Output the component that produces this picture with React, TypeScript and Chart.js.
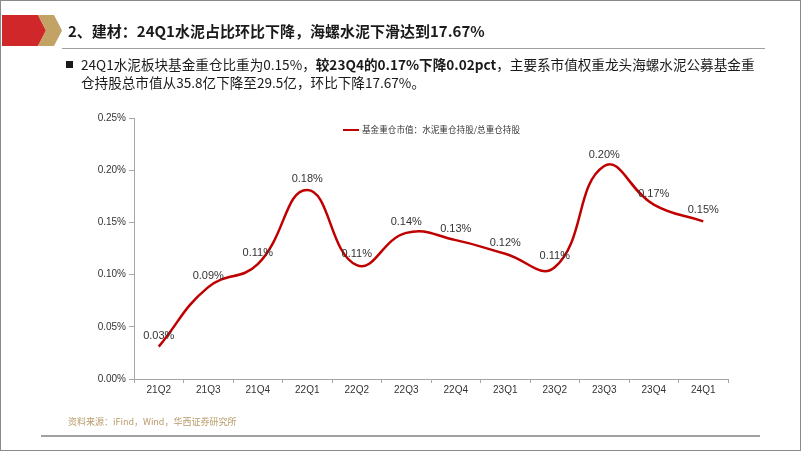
import React, { useEffect, useRef } from "react";
import { Chart, registerables } from "chart.js";

Chart.register(...registerables);

const categories = ["21Q2", "21Q3", "21Q4", "22Q1", "22Q2", "22Q3", "22Q4", "23Q1", "23Q2", "23Q3", "23Q4", "24Q1"];
const shareValues = [0.031, 0.088, 0.11, 0.181, 0.109, 0.14, 0.133, 0.12, 0.107, 0.204, 0.167, 0.151];
const yTickValues = [0, 0.05, 0.1, 0.15, 0.2, 0.25];
const seriesName = "基金重仓市值：水泥重仓持股/总重仓持股";
const titleText = "2、建材：24Q1水泥占比环比下降，海螺水泥下滑达到17.67%";
const bulletPre = "24Q1水泥板块基金重仓比重为0.15%，";
const bulletBold = "较23Q4的0.17%下降0.02pct";
const bulletPost = "，主要系市值权重龙头海螺水泥公募基金重";
const bulletLine2 = "仓持股总市值从35.8亿下降至29.5亿，环比下降17.67%。";
const sourceText = "资料来源：iFind，Wind，华西证券研究所";

const AXIS_FONT = "'Liberation Sans', Arial, sans-serif";
const CJK_FONT = "'Noto Sans CJK SC', 'Noto Sans', sans-serif";

const dataLabelPlugin = {
  id: "dataLabels",
  afterDatasetsDraw(chart: any) {
    const ctx = chart.ctx;
    const meta = chart.getDatasetMeta(0);
    ctx.save();
    ctx.font = `11px ${AXIS_FONT}`;
    ctx.fillStyle = "#333333";
    ctx.textAlign = "center";
    ctx.textBaseline = "middle";
    meta.data.forEach((pt: any, i: number) => {
      ctx.fillText(shareValues[i].toFixed(2) + "%", pt.x, pt.y - 11);
    });
    ctx.restore();
  },
};

export default function App() {
  const canvasRef = useRef<HTMLCanvasElement | null>(null);

  useEffect(() => {
    if (!canvasRef.current) return;
    const chart = new Chart(canvasRef.current, {
      type: "line",
      data: {
        labels: categories,
        datasets: [
          {
            label: seriesName,
            data: shareValues,
            borderColor: "#C00000",
            borderWidth: 2.5,
            pointRadius: 0,
            tension: 0.45,
            fill: false,
          },
        ],
      },
      options: {
        animation: false,
        responsive: false,
        devicePixelRatio: 1,
        layout: { padding: { left: 84, top: 118, right: 74, bottom: 42 } },
        plugins: {
          legend: { display: false },
          tooltip: { enabled: false },
          title: { display: false },
        },
        scales: {
          x: {
            type: "category",
            offset: true,
            afterFit(scale: any) {
              scale.height = 30;
            },
            grid: {
              display: true,
              offset: true,
              drawOnChartArea: false,
              drawTicks: true,
              tickLength: 4,
              color: "#a6a6a6",
            },
            border: { display: true, color: "#a6a6a6", width: 1 },
            ticks: {
              color: "#333333",
              font: { size: 10, family: AXIS_FONT },
              padding: 1,
              maxRotation: 0,
              autoSkip: false,
            },
          },
          y: {
            min: 0,
            max: 0.25,
            afterFit(scale: any) {
              scale.width = 50;
            },
            afterBuildTicks(scale: any) {
              scale.ticks = yTickValues.map((v) => ({ value: v }));
            },
            grid: {
              display: true,
              drawOnChartArea: false,
              drawTicks: true,
              tickLength: 5,
              color: "#a6a6a6",
            },
            border: { display: true, color: "#a6a6a6", width: 1 },
            ticks: {
              color: "#333333",
              font: { size: 10, family: AXIS_FONT },
              padding: 3,
              callback: (v: any) => Number(v).toFixed(2) + "%",
            },
          },
        },
      },
      plugins: [dataLabelPlugin],
    });
    return () => chart.destroy();
  }, []);

  return (
    <div
      style={{
        position: "fixed",
        left: 0,
        top: 0,
        width: 802,
        height: 451,
        background: "#ffffff",
        overflow: "hidden",
        fontFamily: CJK_FONT,
      }}
    >
      <canvas
        ref={canvasRef}
        width={802}
        height={451}
        style={{ position: "absolute", left: 0, top: 0, width: 802, height: 451 }}
      />
      {/* frame */}
      <div
        style={{
          position: "absolute",
          left: 0,
          top: 0,
          width: 801,
          height: 451,
          boxSizing: "border-box",
          border: "1.5px solid #8a8a8a",
          pointerEvents: "none",
        }}
      />
      {/* header chevrons */}
      <div
        style={{
          position: "absolute",
          left: 2,
          top: 15,
          width: 45,
          height: 31,
          background: "#d0282a",
          clipPath: "polygon(0 0, 36px 0, 44px 50%, 36px 100%, 0 100%)",
        }}
      />
      <div
        style={{
          position: "absolute",
          left: 38,
          top: 15,
          width: 25,
          height: 31,
          background: "#c3a265",
          clipPath: "polygon(0 0, 16px 0, 24px 50%, 16px 100%, 0 100%, 8px 50%)",
        }}
      />
      <div
        style={{
          position: "absolute",
          left: 68,
          top: 20,
          fontSize: 15,
          lineHeight: "22px",
          fontWeight: 700,
          color: "#1a1a1a",
          whiteSpace: "nowrap",
        }}
      >
        {titleText}
      </div>
      <div style={{ position: "absolute", left: 62, top: 47.5, width: 703, height: 1.5, background: "#a0a0a0" }} />
      {/* bullet */}
      <div style={{ position: "absolute", left: 66, top: 61, width: 7, height: 7, background: "#1a1a1a" }} />
      <div
        style={{
          position: "absolute",
          left: 81,
          top: 55,
          fontSize: 13.6,
          lineHeight: "18px",
          color: "#1a1a1a",
          whiteSpace: "nowrap",
        }}
      >
        <div>
          {bulletPre}
          <b>{bulletBold}</b>
          {bulletPost}
        </div>
        <div>{bulletLine2}</div>
      </div>
      {/* legend */}
      <div style={{ position: "absolute", left: 343, top: 128.5, width: 16, height: 2.5, background: "#C00000" }} />
      <div
        style={{
          position: "absolute",
          left: 362,
          top: 123,
          fontSize: 8.6,
          lineHeight: "13px",
          color: "#333333",
          whiteSpace: "nowrap",
        }}
      >
        {seriesName}
      </div>
      {/* source */}
      <div
        style={{
          position: "absolute",
          left: 68,
          top: 416,
          fontSize: 9,
          lineHeight: "12px",
          color: "#b89a68",
          whiteSpace: "nowrap",
        }}
      >
        {sourceText}
      </div>
      <div style={{ position: "absolute", left: 41, top: 434.5, width: 719, height: 2, background: "#a0a0a0" }} />
    </div>
  );
}
